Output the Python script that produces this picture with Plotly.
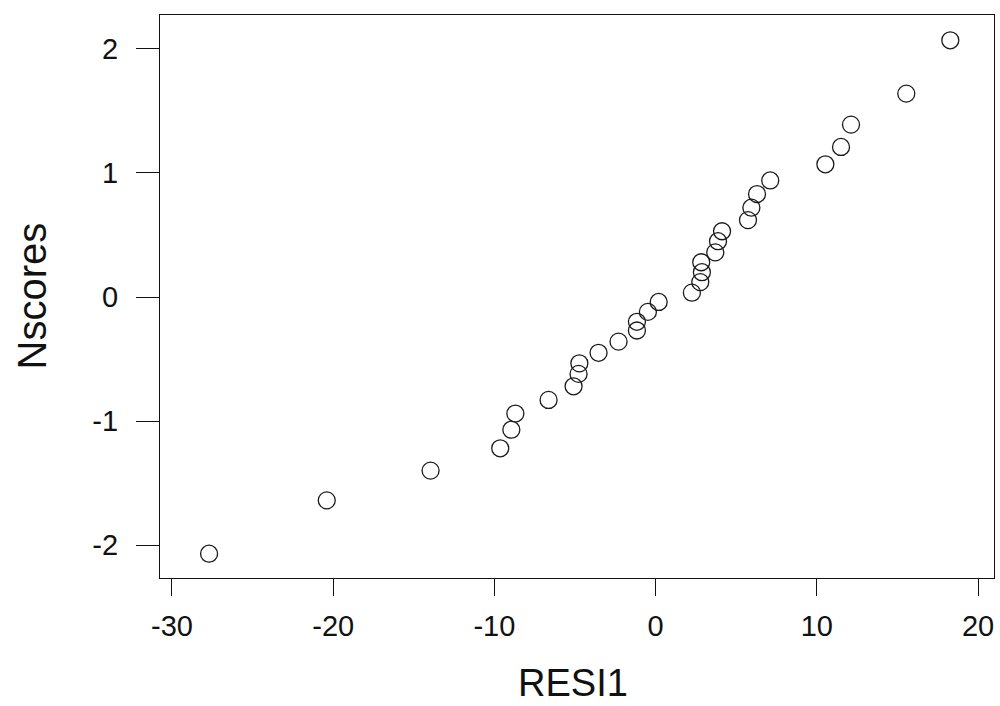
import plotly.graph_objects as go

# Residuals (x) and normal scores (y)
resi1 = [-27.7, -20.4, -13.96, -9.64, -8.95, -8.70, -6.64, -5.09, -4.78, -4.73,
         -3.54, -2.30, -1.16, -1.16, -0.48, 0.19,
         2.25, 2.77, 2.87, 2.83, 3.70, 3.87, 4.12, 5.73, 5.94, 6.29,
         7.11, 10.53, 11.50, 12.12, 15.55, 18.28]
nscores = [-2.07, -1.64, -1.40, -1.22, -1.07, -0.94, -0.83, -0.72, -0.62, -0.535,
           -0.45, -0.36, -0.27, -0.20, -0.12, -0.04,
           0.035, 0.12, 0.20, 0.28, 0.36, 0.45, 0.53, 0.62, 0.72, 0.83,
           0.94, 1.07, 1.21, 1.39, 1.64, 2.07]

x_ticks = [-30, -20, -10, 0, 10, 20]
y_ticks = [-2, -1, 0, 1, 2]

FONT = "Arial, Liberation Sans, Helvetica, sans-serif"

fig = go.Figure()
fig.add_trace(go.Scatter(
    x=resi1, y=nscores, mode="markers",
    marker=dict(symbol="circle-open", size=17, color="#1a1a1a",
                line=dict(width=1.3, color="#1a1a1a")),
    showlegend=False,
))

axis_common = dict(
    showgrid=False, zeroline=False, showline=True, mirror=True,
    linecolor="#111", linewidth=1.3, ticks="outside", tickcolor="#111",
    tickwidth=1.3, tickfont=dict(family=FONT, size=29, color="#111"),
)

fig.update_xaxes(range=[-30.744, 20.99], tickvals=x_ticks,
                 ticktext=[str(v) for v in x_ticks], ticklen=17,
                 ticklabelstandoff=5, **axis_common)
fig.update_yaxes(range=[-2.266, 2.274], tickvals=y_ticks,
                 ticktext=[str(v) for v in y_ticks], ticklen=23,
                 ticklabelstandoff=12, **axis_common)

fig.add_annotation(text="RESI1", xref="paper", yref="paper",
                   x=(573 - 160) / 834, y=(578 - 683) / 563,
                   xanchor="center", yanchor="middle", showarrow=False,
                   font=dict(family=FONT, size=38, color="#111"))
fig.add_annotation(text="Nscores", xref="paper", yref="paper",
                   x=(31 - 160) / 834, y=0.5, textangle=-90,
                   xanchor="center", yanchor="middle", showarrow=False,
                   font=dict(family=FONT, size=40, color="#111"))

fig.update_layout(
    width=1000, height=706,
    margin=dict(l=160, r=6, t=15, b=128),
    paper_bgcolor="white", plot_bgcolor="white",
)

fig.write_html("out.html")
